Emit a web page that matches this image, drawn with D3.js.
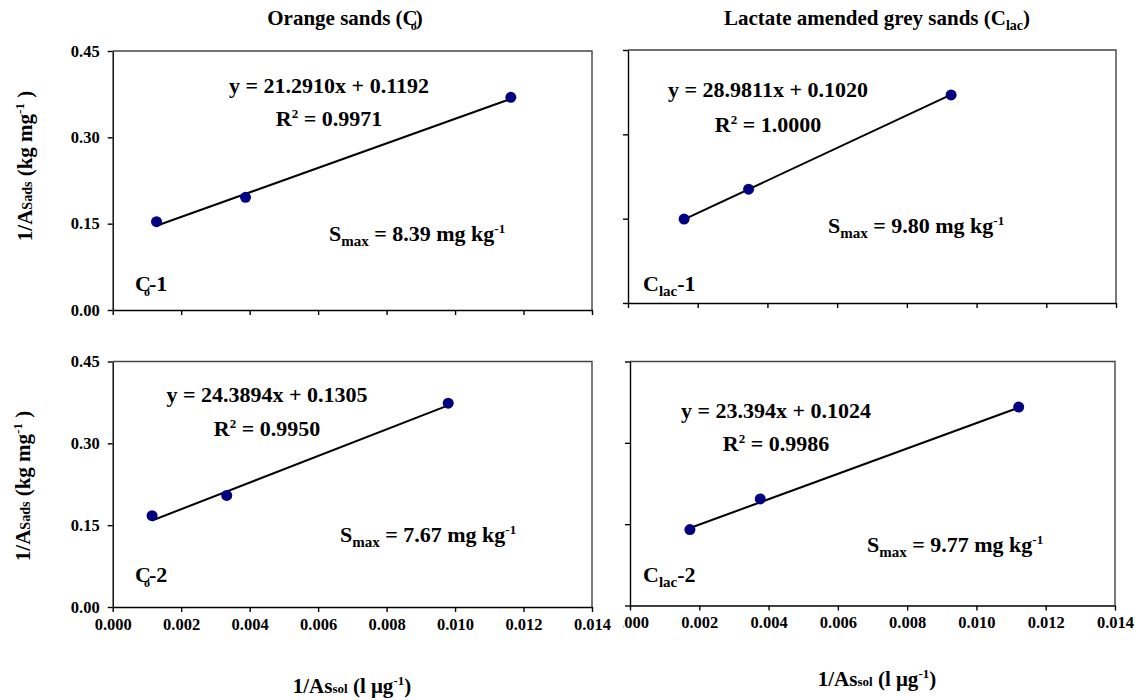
<!DOCTYPE html>
<html>
<head>
<meta charset="utf-8">
<script src="https://cdn.jsdelivr.net/npm/d3@7"></script>
<style>
  body { margin: 0; background: #fff; }
</style>
</head>
<body>
<div id="vis"></div>
<script>
const serif = "'Liberation Serif', 'Times New Roman', Times, serif";

// tick values
const xTicks = [0, 0.002, 0.004, 0.006, 0.008, 0.010, 0.012, 0.014];
const yTicks = [0, 0.15, 0.30, 0.45];

// points
const xC01 = [0.00128, 0.00388, 0.01163];
const yC01 = [0.1535, 0.1958, 0.3695];
const xClac1 = [0.00161, 0.00346, 0.00927];
const yClac1 = [0.1492, 0.2025, 0.3701];
const xC02 = [0.00115, 0.00333, 0.00980];
const yC02 = [0.1673, 0.2045, 0.3736];
const xClac2 = [0.00173, 0.00376, 0.01122];
const yClac2 = [0.1400, 0.1965, 0.3660];

// fits
const slopes = [21.2910, 28.9811, 24.3894, 23.394];
const intercepts = [0.1192, 0.1020, 0.1305, 0.1024];
const eqLabels = ['y = 21.2910x + 0.1192', 'y = 28.9811x + 0.1020', 'y = 24.3894x + 0.1305', 'y = 23.394x + 0.1024'];
const r2Labels = ['0.9971', '1.0000', '0.9950', '0.9986'];
const smaxLabels = ['8.39', '9.80', '7.67', '9.77'];
const sampleSub = ['o', 'lac', 'o', 'lac'];
const sampleNo = ['1', '1', '2', '2'];

let svg = d3.select('#vis')
    .append('svg')
    .attr('width', 1139)
    .attr('height', 700);

// helper for text with sub / superscripts
function rich(x, y, size, anchor, parts) {
    let t = svg.append('text')
        .attr('x', x)
        .attr('y', y)
        .attr('font-family', serif)
        .attr('font-weight', 'bold')
        .attr('font-size', size)
        .attr('text-anchor', anchor);
    let shift = 0;
    parts.forEach(function(p) {
        let s = t.append('tspan').text(p.t);
        let want = 0;
        if (p.sub) want = size * 0.22;
        if (p.sup) want = -size * 0.38;
        if (want - shift !== 0) s.attr('dy', want - shift);
        shift = want;
        if (p.sub || p.sup) s.attr('font-size', p.size || size * 0.62);
        else if (p.size) s.attr('font-size', p.size);
        if (p.dx) s.attr('dx', p.dx);
    });
    return t;
}

let panels = [
    {x: xC01, y: yC01, left: 112.7, right: 592, top: 51, bottom: 310, xLab: false, yLab: true,
     eq: [329, 93], r2: [329, 126], smax: [329, 241], lab: [135, 291]},
    {x: xClac1, y: yClac1, left: 628, right: 1116, top: 50, bottom: 303, xLab: false, yLab: false,
     eq: [768, 97], r2: [768, 132], smax: [828, 233], lab: [643, 291]},
    {x: xC02, y: yC02, left: 112.7, right: 592, top: 361.5, bottom: 607, xLab: true, yLab: true,
     eq: [267, 402], r2: [267, 436], smax: [340, 542], lab: [135, 582]},
    {x: xClac2, y: yClac2, left: 630, right: 1115, top: 361.5, bottom: 605.5, xLab: true, yLab: false,
     eq: [776, 418], r2: [776, 451], smax: [867, 552], lab: [643, 582]}
];

// clip for the half hidden 0.000 label of the lower right panel (tick-local coords)
svg.append('clipPath').attr('id', 'cutLeft')
    .append('rect').attr('x', -7).attr('y', -20).attr('width', 60).attr('height', 60);

panels.forEach(function(p, i) {
    let xScale = d3.scaleLinear().domain([0, 0.014]).range([p.left, p.right]);
    let yScale = d3.scaleLinear().domain([0, 0.45]).range([p.bottom, p.top]);

    // frame (top and right)
    svg.append('path')
        .attr('d', 'M' + p.left + ',' + p.top + 'H' + p.right + 'V' + p.bottom)
        .attr('fill', 'none')
        .attr('stroke', '#444')
        .attr('stroke-width', 1.4);

    let xAxis = d3.axisBottom(xScale)
        .tickValues(xTicks)
        .tickSize(5)
        .tickSizeOuter(0)
        .tickPadding(6)
        .tickFormat(p.xLab ? d3.format('.3f') : '');
    let gx = svg.append('g')
        .attr('transform', 'translate(0,' + p.bottom + ')')
        .call(xAxis);
    gx.attr('font-family', serif).attr('font-weight', 'bold').attr('font-size', 16.5);
    gx.selectAll('path, line').attr('stroke', '#000').attr('stroke-width', 1.4);
    gx.selectAll('text').attr('fill', '#000');
    if (i === 3) gx.select('.tick text').attr('clip-path', 'url(#cutLeft)');

    let yAxis = d3.axisLeft(yScale)
        .tickValues(yTicks)
        .tickSize(5)
        .tickSizeOuter(0)
        .tickPadding(8)
        .tickFormat(p.yLab ? d3.format('.2f') : '');
    let gy = svg.append('g')
        .attr('transform', 'translate(' + p.left + ',0)')
        .call(yAxis);
    gy.attr('font-family', serif).attr('font-weight', 'bold').attr('font-size', 16.5);
    gy.selectAll('path, line').attr('stroke', '#000').attr('stroke-width', 1.4);
    gy.selectAll('text').attr('fill', '#000');

    // trend line over the data range
    let x0 = d3.min(p.x), x1 = d3.max(p.x);
    svg.append('line')
        .attr('x1', xScale(x0))
        .attr('y1', yScale(slopes[i] * x0 + intercepts[i]))
        .attr('x2', xScale(x1))
        .attr('y2', yScale(slopes[i] * x1 + intercepts[i]))
        .attr('stroke', '#000')
        .attr('stroke-width', 2);

    svg.selectAll('circle.p' + i)
        .data(p.x)
        .enter()
        .append('circle')
        .attr('class', 'p' + i)
        .attr('cx', function(d) { return xScale(d); })
        .attr('cy', function(d, j) { return yScale(p.y[j]); })
        .attr('r', 5.5)
        .attr('fill', '#000080');

    rich(p.eq[0], p.eq[1], 22, 'middle', [{t: eqLabels[i]}]);
    rich(p.r2[0], p.r2[1], 22, 'middle', [{t: 'R'}, {t: '2', sup: true, size: 13}, {t: ' = ' + r2Labels[i]}]);
    rich(p.smax[0], p.smax[1], 22, 'start', [{t: 'S'}, {t: 'max', sub: true, size: 15}, {t: ' = ' + smaxLabels[i] + ' mg kg'}, {t: '-1', sup: true, size: 13}]);
    if (sampleSub[i] === 'o') {
        rich(p.lab[0], p.lab[1], 22, 'start', [{t: 'C'}, {t: 'o', sub: true, size: 12, dx: -7}, {t: '-' + sampleNo[i], dx: -1}]);
    } else {
        rich(p.lab[0], p.lab[1], 22, 'start', [{t: 'C'}, {t: 'lac', sub: true, size: 15}, {t: '-' + sampleNo[i]}]);
    }
});

// column titles
rich(345, 25, 21, 'middle', [{t: 'Orange sands (C'}, {t: 'o', sub: true, size: 12, dx: -7}, {t: ')', dx: -1}]);
rich(877, 25, 21, 'middle', [{t: 'Lactate amended grey sands (C'}, {t: 'lac', sub: true, size: 14}, {t: ')'}]);

// x axis titles
[[352, 693], [877, 686]].forEach(function(pos) {
    rich(pos[0], pos[1], 21, 'middle', [{t: '1/As'}, {t: 'sol', size: 13}, {t: ' (l \u03bcg'}, {t: '-1', sup: true, size: 13}, {t: ')'}]);
});

// y axis titles
[[32, 166], [30, 486]].forEach(function(pos) {
    rich(0, 0, 21, 'middle', [{t: '1/A'}, {t: 'Sads', size: 14}, {t: ' (kg mg'}, {t: '-1', sup: true, size: 13}, {t: ' )'}])
        .attr('transform', 'translate(' + pos[0] + ',' + pos[1] + ') rotate(-90)');
});
</script>
</body>
</html>
